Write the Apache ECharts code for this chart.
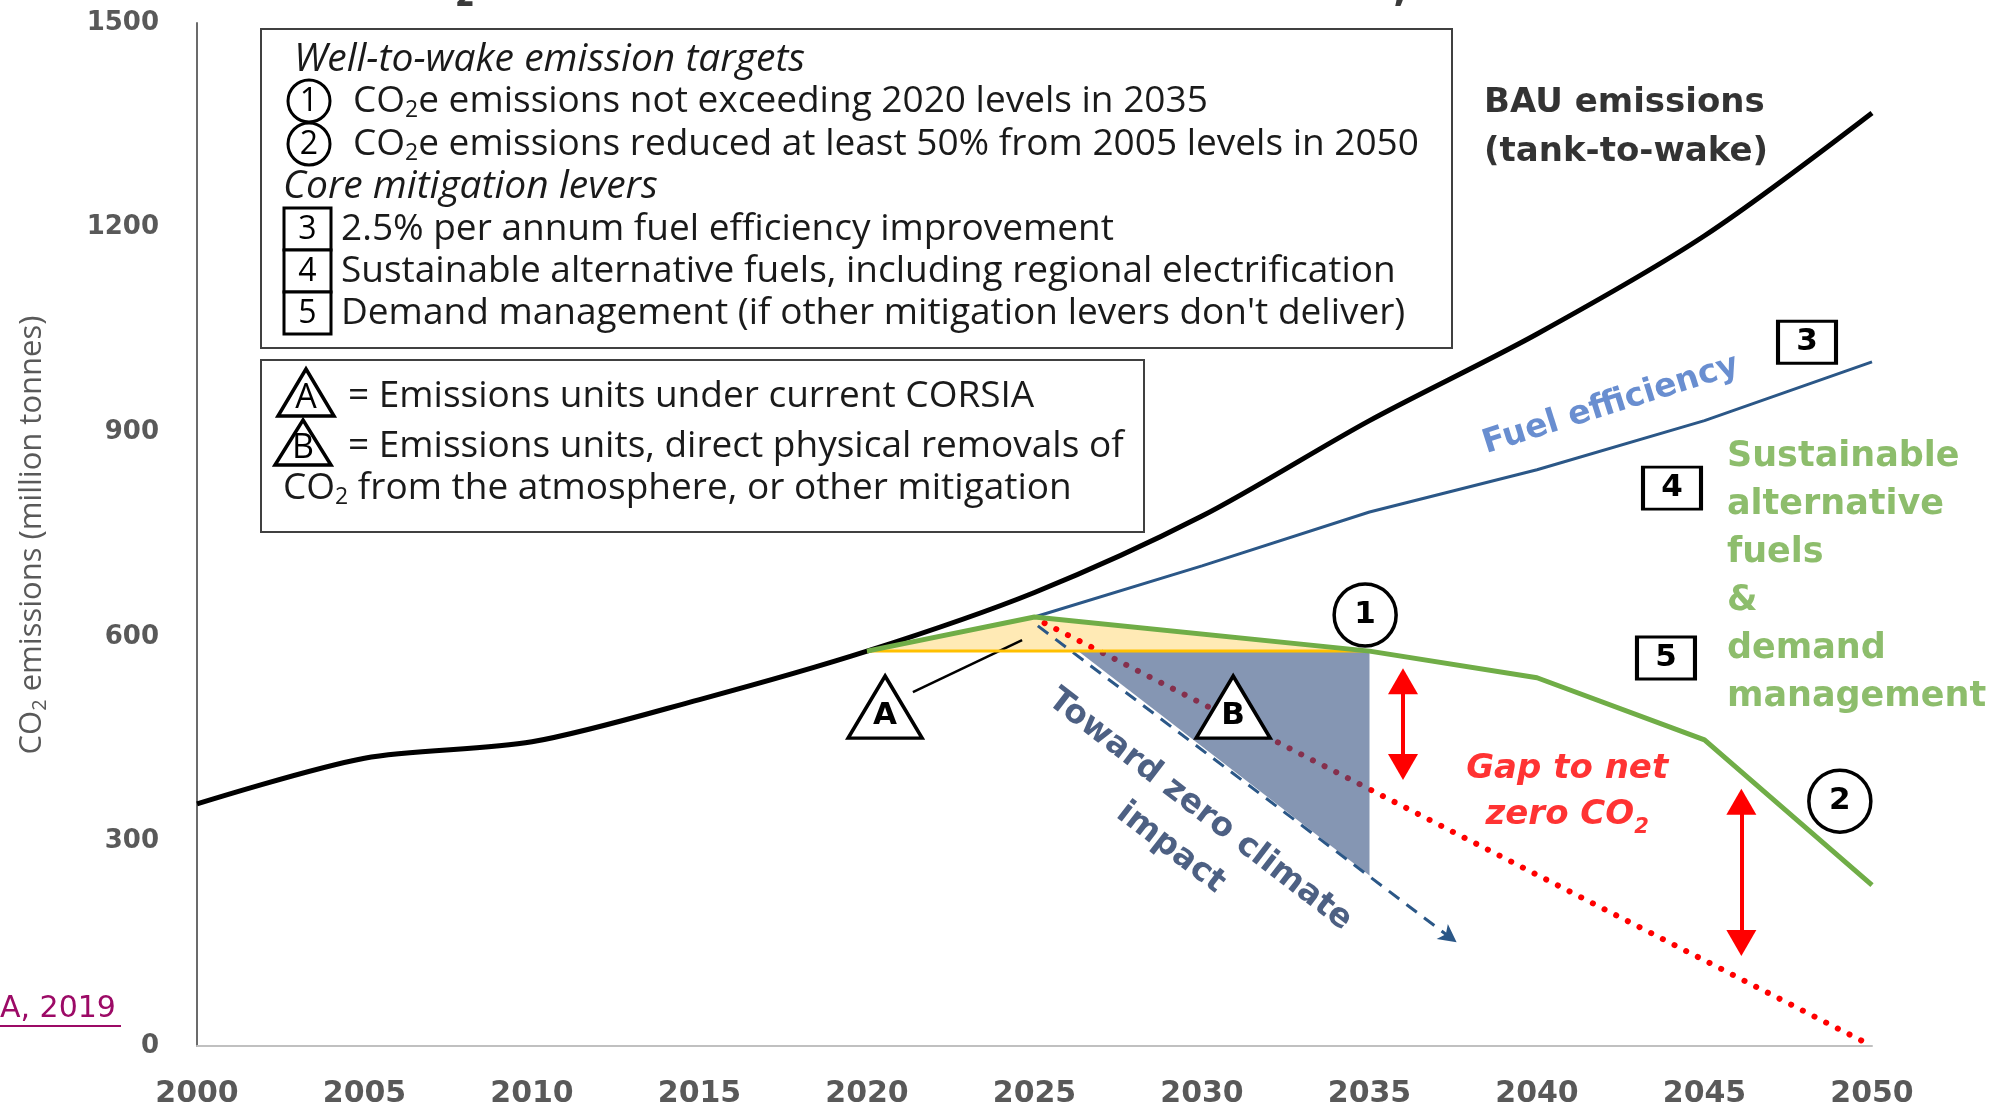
<!DOCTYPE html>
<html>
<head>
<meta charset="utf-8">
<title>CO2 emissions from international aviation</title>
<script src="https://cdn.jsdelivr.net/npm/echarts@6/dist/echarts.min.js"></script>
<style>
  html, body { margin: 0; padding: 0; background: #fff; }
  #chart { width: 1997px; height: 1105px; }
</style>
</head>
<body>
<div id="chart"></div>
<script>
  // axis ticks
  const xTicks = [2000, 2005, 2010, 2015, 2020, 2025, 2030, 2035, 2040, 2045, 2050]
  const yTicks = [0, 300, 600, 900, 1200, 1500]

  // BAU emissions (tank-to-wake), million tonnes
  const bauYears = [2000, 2005, 2010, 2015, 2020, 2025, 2030, 2035, 2040, 2045, 2050]
  const bauValues = [355, 422, 446, 508, 579, 665, 777, 917, 1044, 1188, 1368]
  // fuel efficiency path
  const fuelYears = [2025, 2030, 2035, 2040, 2045, 2050]
  const fuelValues = [629, 704, 783, 845, 917, 1003]
  // sustainable alternative fuels & demand management
  const safYears = [2020, 2025, 2035, 2040, 2045, 2050]
  const safValues = [579, 629, 579, 540, 449, 236]
  // 2020 level
  const capYears = [2020, 2035]
  const capValues = [579, 579]
  // net zero path (red dots)
  const netZeroYears = [2025.3, 2050]
  const netZeroValues = [620, 0]
  // toward zero climate impact (dashed arrow)
  const zeroImpactYears = [2025.1, 2037.6]
  const zeroImpactValues = [616, 152]
  // gap to net zero arrows
  const gapYears = [2036, 2046.1]
  const gapTops = [535, 358]
  const gapBottoms = [409, 151]
  // shaded areas
  const corsiaArea = [[2020, 579], [2025, 629], [2035, 579]]
  const removalsArea = [[2026.3, 579], [2035, 579], [2035, 250]]

  const BOX_FONT = '"Open Sans", "Noto Sans", sans-serif'
  const BOLD_FONT = '"DejaVu Sans", Verdana, sans-serif'
  const pairs = (xs, ys) => xs.map((x, i) => [x, ys[i]])

  function areaSeries(name, points, fill, z) {
    return {
      type: 'custom',
      name: name,
      z: z,
      silent: true,
      data: [points[0]],
      renderItem: (params, api) => ({
        type: 'polygon',
        shape: { points: points.map(p => api.coord(p)) },
        style: { fill: fill }
      })
    }
  }

  function lineSeries(name, data, lineStyle, z, extra) {
    return Object.assign({
      type: 'line',
      name: name,
      data: data,
      symbol: 'none',
      z: z,
      silent: true,
      lineStyle: lineStyle
    }, extra || {})
  }

  // marker symbols sitting on the chart
  const markers = [
    { value: [2020.54, 497], symbol: 'triangle', symbolSize: [74, 62], text: 'A', offset: [0, 9] },
    { value: [2030.93, 497], symbol: 'triangle', symbolSize: [74, 62], text: 'B', offset: [0, 9] },
    { value: [2034.87, 632], symbol: 'circle', symbolSize: 62, text: '1', offset: [0, 0] },
    { value: [2049.04, 359], symbol: 'circle', symbolSize: 62, text: '2', offset: [0, 0] },
    { value: [2048.06, 1032], symbol: 'rect', symbolSize: [58, 42], text: '3', offset: [0, 0] },
    { value: [2044.03, 818], symbol: 'rect', symbolSize: [58, 42], text: '4', offset: [0, 0] },
    { value: [2043.85, 569], symbol: 'rect', symbolSize: [58, 42], text: '5', offset: [0, 0] }
  ]

  // text notes on the chart
  const notes = [
    { value: [2038.42, 1347], text: 'BAU emissions\n(tank-to-wake)', position: 'right', color: '#000', size: 34, lineHeight: 49 },
    { value: [2042.2, 940], text: 'Fuel efficiency', position: 'inside', color: '#4472c4', size: 33, rotate: 17.5 },
    { value: [2045.67, 688], text: 'Sustainable\nalternative\nfuels\n&\ndemand\nmanagement', position: 'right', color: '#70ad47', size: 35, lineHeight: 48 },
    { value: [2040.9, 372], text: 'Gap to net\nzero CO{s|2}', position: 'inside', color: '#ff0000', size: 34, lineHeight: 46, italic: true },
    { value: [2029.5, 318], text: 'Toward zero climate\nimpact', position: 'inside', color: '#203864', size: 33, lineHeight: 48, rotate: -37.6 }
  ]

  function boxText(x, y, text, opts) {
    return {
      type: 'text',
      style: Object.assign({
        x: x,
        y: y,
        text: text,
        fontFamily: BOX_FONT,
        fontSize: 37,
        lineHeight: 42,
        fill: '#1a1a1a',
        verticalAlign: 'middle',
        rich: {
          sub: { fontFamily: BOX_FONT, fontSize: 23, lineHeight: 25, verticalAlign: 'bottom', fill: '#1a1a1a' }
        }
      }, opts || {})
    }
  }

  function numCircle(cx, cy, label) {
    return [
      { type: 'circle', shape: { cx: cx, cy: cy, r: 21 }, style: { fill: '#fff', stroke: '#000', lineWidth: 3 } },
      { type: 'text', style: { x: cx, y: cy + 1, text: label, fontFamily: BOX_FONT, fontSize: 32, fill: '#000', align: 'center', verticalAlign: 'middle' } }
    ]
  }

  function numBox(x, y, label) {
    return [
      { type: 'rect', shape: { x: x, y: y, width: 47, height: 42 }, style: { fill: '#fff', stroke: '#000', lineWidth: 3 } },
      { type: 'text', style: { x: x + 23.5, y: y + 22, text: label, fontFamily: BOX_FONT, fontSize: 32, fill: '#000', align: 'center', verticalAlign: 'middle' } }
    ]
  }

  function letterTriangle(ax, ay, h, w, label) {
    return [
      { type: 'polygon', shape: { points: [[ax, ay], [ax + w / 2, ay + h], [ax - w / 2, ay + h]] }, style: { fill: '#fff', stroke: '#000', lineWidth: 3.5 } },
      { type: 'text', style: { x: ax, y: ay + h * 0.62, text: label, fontFamily: BOX_FONT, fontSize: 34, fill: '#000', align: 'center', verticalAlign: 'middle' } }
    ]
  }

  const targetsBox = [
    { type: 'rect', shape: { x: 261, y: 29, width: 1191, height: 319 }, style: { fill: '#fff', stroke: '#404040', lineWidth: 2 } },
    boxText(294, 60, 'Well-to-wake emission targets', { fontStyle: 'italic', fontSize: 39 }),
    ...numCircle(309, 101, '1'),
    boxText(353, 101, 'CO{sub|2}e emissions not exceeding 2020 levels in 2035'),
    ...numCircle(309, 144, '2'),
    boxText(353, 144, 'CO{sub|2}e emissions reduced at least 50% from 2005 levels in 2050'),
    boxText(283, 187, 'Core mitigation levers', { fontStyle: 'italic', fontSize: 39 }),
    ...numBox(284, 208, '3'),
    ...numBox(284, 250, '4'),
    ...numBox(284, 292, '5'),
    boxText(341, 229, '2.5% per annum fuel efficiency improvement'),
    boxText(341, 271, 'Sustainable alternative fuels, including regional electrification'),
    boxText(341, 313, 'Demand management (if other mitigation levers don\'t deliver)')
  ]

  const unitsBox = [
    { type: 'rect', shape: { x: 261, y: 360, width: 883, height: 172 }, style: { fill: '#fff', stroke: '#404040', lineWidth: 2 } },
    ...letterTriangle(306, 369, 47, 56, 'A'),
    ...letterTriangle(303, 420, 45, 56, 'B'),
    boxText(348, 396, '= Emissions units under current CORSIA'),
    boxText(348, 446, '= Emissions units, direct physical removals of'),
    boxText(283, 488, 'CO{sub|2} from the atmosphere, or other mitigation')
  ]

  const chart = echarts.init(document.getElementById('chart'))

  const option = {
    animation: false,
    backgroundColor: '#fff',
    grid: { left: 197, right: 125, top: 23, bottom: 59, outerBoundsMode: 'none' },
    xAxis: {
      type: 'value',
      min: xTicks[0],
      max: xTicks[xTicks.length - 1],
      interval: xTicks[1] - xTicks[0],
      axisLine: { show: true, lineStyle: { color: '#c0c0c0', width: 2 } },
      axisTick: { show: false },
      splitLine: { show: false },
      axisLabel: { margin: 33, formatter: v => String(v), fontFamily: BOLD_FONT, fontWeight: 'bold', fontSize: 30, color: '#595959' }
    },
    yAxis: {
      type: 'value',
      min: yTicks[0],
      max: yTicks[yTicks.length - 1],
      interval: yTicks[1] - yTicks[0],
      axisLine: { show: true, lineStyle: { color: '#6b6b6b', width: 2 } },
      axisTick: { show: false },
      splitLine: { show: false },
      axisLabel: { margin: 38, formatter: v => String(v), fontFamily: BOLD_FONT, fontWeight: 'bold', fontSize: 26, color: '#595959' }
    },
    graphic: [
      // chart title (cut off at the top edge)
      {
        type: 'text', z: 50,
        style: { x: 1051, y: 10, text: 'CO₂ emissions from international aviation, 2005 to 2050', fontFamily: BOX_FONT, fontWeight: 'bold', fontSize: 48, fill: '#3a3a3a', align: 'center', verticalAlign: 'bottom' }
      },
      // y axis title
      {
        type: 'text', z: 50, x: 32, y: 535, rotation: Math.PI / 2,
        style: {
          x: 0, y: 0, text: 'CO{sub|2} emissions (million tonnes)', fontFamily: BOX_FONT, fontSize: 31, lineHeight: 36, fill: '#595959', align: 'center', verticalAlign: 'middle',
          rich: { sub: { fontFamily: BOX_FONT, fontSize: 20, lineHeight: 22, verticalAlign: 'bottom', fill: '#595959' } }
        }
      },
      // source link
      { type: 'text', z: 50, style: { x: 0, y: 1009, text: 'A, 2019', fontFamily: '"DejaVu Sans", sans-serif', fontSize: 30, fill: '#9c0a66', verticalAlign: 'middle' } },
      { type: 'line', z: 50, shape: { x1: 0, y1: 1026, x2: 121, y2: 1026 }, style: { stroke: '#9c0a66', lineWidth: 2 } },
      { type: 'group', z: 100, children: targetsBox },
      { type: 'group', z: 100, children: unitsBox }
    ],
    series: [
      areaSeries('CORSIA units', corsiaArea, 'rgba(255, 208, 90, 0.45)', 1),
      lineSeries('Net zero', pairs(netZeroYears, netZeroValues), { color: '#ff0000', width: 6, type: [0.1, 13], cap: 'round' }, 2),
      areaSeries('Removals', removalsArea, 'rgba(51, 80, 128, 0.6)', 3),
      lineSeries('BAU emissions', pairs(bauYears, bauValues), { color: '#000', width: 5 }, 5, { smooth: 0.3 }),
      lineSeries('Fuel efficiency', pairs(fuelYears, fuelValues), { color: '#2b5787', width: 3 }, 5),
      lineSeries('2020 level', pairs(capYears, capValues), { color: '#ffc000', width: 3 }, 6),
      lineSeries('Sustainable fuels & demand management', pairs(safYears, safValues), { color: '#70ad47', width: 5 }, 7),
      lineSeries('Arrows', [], { width: 3 }, 8, {
        markLine: {
          silent: true,
          label: { show: false },
          symbolSize: [22, 26],
          data: [
            [
              { coord: [zeroImpactYears[0], zeroImpactValues[0]], symbol: 'none', lineStyle: { color: '#2b5787', width: 3, type: [13, 9] } },
              { coord: [zeroImpactYears[1], zeroImpactValues[1]], symbol: 'arrow', symbolSize: [14, 18] }
            ],
            ...gapYears.map((yr, i) => [
              { coord: [yr, gapTops[i]], symbol: 'triangle', symbolSize: [30, 26], lineStyle: { color: '#ff0000', width: 4, type: 'solid' } },
              { coord: [yr, gapBottoms[i]], symbol: 'triangle', symbolSize: [30, 26] }
            ]),
            [
              { coord: [2021.37, 519], symbol: 'none', lineStyle: { color: '#000', width: 2.5, type: 'solid' } },
              { coord: [2024.63, 595], symbol: 'none' }
            ]
          ]
        }
      }),
      {
        type: 'scatter',
        name: 'Markers',
        z: 9,
        silent: true,
        data: markers.map(m => ({
          value: m.value,
          symbol: m.symbol,
          symbolSize: m.symbolSize,
          itemStyle: { color: '#fff', borderColor: '#000', borderWidth: 3.5, opacity: 1 },
          label: {
            show: true, position: 'inside', formatter: m.text, offset: m.offset,
            fontFamily: BOLD_FONT, fontWeight: 'bold', fontSize: 31, color: '#000'
          }
        }))
      },
      {
        type: 'scatter',
        name: 'Notes',
        z: 10,
        silent: true,
        symbolSize: 0,
        data: notes.map(n => ({
          value: n.value,
          label: {
            show: true,
            position: n.position,
            distance: 0,
            formatter: n.text,
            rotate: n.rotate || 0,
            align: n.position === 'right' ? 'left' : 'center',
            fontFamily: BOLD_FONT,
            fontWeight: 'bold',
            fontStyle: n.italic ? 'italic' : 'normal',
            fontSize: n.size,
            lineHeight: n.lineHeight || n.size * 1.3,
            color: n.color,
            rich: {
              s: { fontFamily: BOLD_FONT, fontWeight: 'bold', fontStyle: 'italic', fontSize: 21, lineHeight: 24, verticalAlign: 'bottom', color: n.color }
            }
          }
        }))
      }
    ]
  }

  chart.setOption(option)
</script>
</body>
</html>
